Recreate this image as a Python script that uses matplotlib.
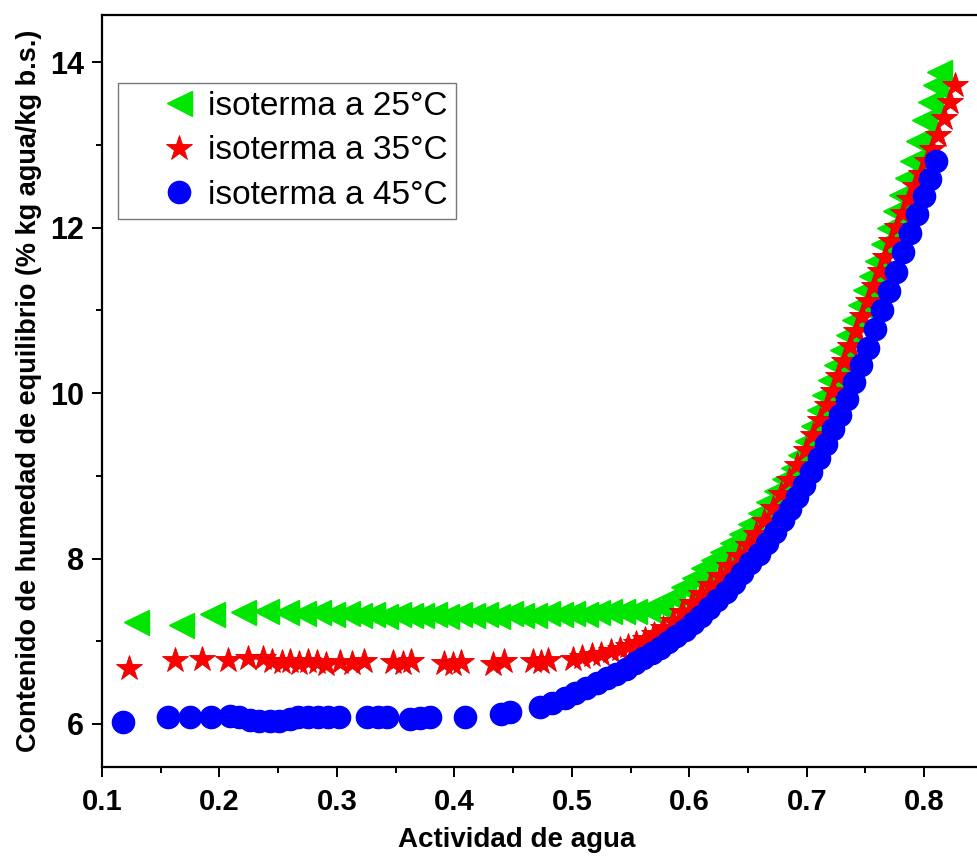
import matplotlib
matplotlib.use("Agg")
import matplotlib.pyplot as plt
from matplotlib.ticker import MultipleLocator

plt.rcParams['font.family'] = ['Liberation Sans', 'DejaVu Sans']

# isoterma a 25 C
aw_25 = [0.129, 0.167, 0.194, 0.220, 0.240, 0.257, 0.271, 0.284, 0.296, 0.309,
         0.319, 0.330, 0.341, 0.352, 0.362, 0.372, 0.383, 0.393, 0.404, 0.415,
         0.426, 0.436, 0.447, 0.457, 0.468, 0.479, 0.490, 0.500, 0.511, 0.521,
         0.532, 0.543, 0.553, 0.564, 0.575, 0.585, 0.595, 0.604, 0.612, 0.620,
         0.628, 0.636, 0.644, 0.652, 0.660, 0.667, 0.674, 0.681, 0.688, 0.694,
         0.700, 0.705, 0.710, 0.715, 0.720, 0.725, 0.730, 0.735, 0.740, 0.745,
         0.750, 0.755, 0.760, 0.765, 0.770, 0.775, 0.780, 0.785, 0.790, 0.795,
         0.800, 0.805, 0.809, 0.813]
hum_25 = [7.23, 7.20, 7.33, 7.35, 7.36, 7.35, 7.34, 7.35, 7.33, 7.34,
          7.32, 7.33, 7.31, 7.33, 7.32, 7.32, 7.33, 7.31, 7.33, 7.32,
          7.33, 7.31, 7.34, 7.32, 7.32, 7.34, 7.33, 7.34, 7.33, 7.35,
          7.36, 7.36, 7.37, 7.39, 7.43, 7.53, 7.65, 7.77, 7.88, 7.98,
          8.08, 8.19, 8.30, 8.42, 8.55, 8.68, 8.82, 8.96, 9.10, 9.25,
          9.42, 9.60, 9.80, 9.98, 10.16, 10.34, 10.52, 10.70, 10.88, 11.06,
          11.24, 11.42, 11.60, 11.80, 12.00, 12.20, 12.40, 12.60, 12.80, 13.05,
          13.30, 13.52, 13.72, 13.88]

# isoterma a 35 C
aw_35 = [0.123, 0.162, 0.185, 0.207, 0.224, 0.237, 0.245, 0.253, 0.260, 0.268,
         0.275, 0.283, 0.291, 0.303, 0.313, 0.323, 0.348, 0.356, 0.363, 0.391,
         0.399, 0.406, 0.433, 0.442, 0.467, 0.474, 0.480, 0.501, 0.509, 0.517,
         0.525, 0.533, 0.541, 0.548, 0.555, 0.562, 0.570, 0.578, 0.586, 0.594,
         0.602, 0.610, 0.618, 0.626, 0.634, 0.642, 0.650, 0.657, 0.664, 0.671,
         0.678, 0.685, 0.692, 0.699, 0.705, 0.711, 0.717, 0.722, 0.727, 0.732,
         0.737, 0.742, 0.747, 0.752, 0.757, 0.762, 0.767, 0.772, 0.777, 0.782,
         0.787, 0.792, 0.797, 0.802, 0.807, 0.812, 0.817, 0.822, 0.826]
hum_35 = [6.68, 6.77, 6.78, 6.77, 6.80, 6.80, 6.76, 6.75, 6.76, 6.74,
          6.76, 6.75, 6.73, 6.75, 6.74, 6.76, 6.75, 6.74, 6.76, 6.74,
          6.73, 6.75, 6.73, 6.76, 6.76, 6.75, 6.77, 6.79, 6.81, 6.83,
          6.85, 6.88, 6.91, 6.94, 6.98, 7.03, 7.09, 7.16, 7.25, 7.35,
          7.46, 7.57, 7.68, 7.79, 7.91, 8.03, 8.16, 8.30, 8.45, 8.61,
          8.78, 8.95, 9.13, 9.31, 9.49, 9.67, 9.85, 10.03, 10.21, 10.39,
          10.57, 10.75, 10.93, 11.11, 11.29, 11.47, 11.65, 11.84, 12.01, 12.18,
          12.35, 12.50, 12.65, 12.80, 12.95, 13.12, 13.32, 13.52, 13.72]

# isoterma a 45 C
aw_45 = [0.118, 0.156, 0.175, 0.193, 0.209, 0.217, 0.226, 0.234, 0.243, 0.251,
         0.260, 0.267, 0.275, 0.284, 0.292, 0.302, 0.326, 0.335, 0.343, 0.362,
         0.371, 0.379, 0.409, 0.440, 0.447, 0.473, 0.483, 0.494, 0.503, 0.512,
         0.521, 0.530, 0.538, 0.546, 0.554, 0.561, 0.568, 0.575, 0.582, 0.589,
         0.596, 0.603, 0.610, 0.617, 0.624, 0.631, 0.638, 0.645, 0.652, 0.659,
         0.666, 0.673, 0.680, 0.686, 0.692, 0.698, 0.704, 0.710, 0.716, 0.722,
         0.728, 0.734, 0.740, 0.746, 0.752, 0.758, 0.764, 0.770, 0.776, 0.782,
         0.788, 0.794, 0.800, 0.805, 0.810]
hum_45 = [6.02, 6.09, 6.09, 6.09, 6.10, 6.08, 6.05, 6.03, 6.03, 6.04,
          6.06, 6.08, 6.09, 6.08, 6.09, 6.08, 6.08, 6.09, 6.08, 6.06,
          6.07, 6.08, 6.09, 6.12, 6.14, 6.20, 6.25, 6.32, 6.37, 6.43,
          6.49, 6.55, 6.61, 6.67, 6.74, 6.80, 6.86, 6.92, 6.99, 7.06,
          7.14, 7.22, 7.31, 7.40, 7.50, 7.60, 7.71, 7.82, 7.94, 8.06,
          8.19, 8.32, 8.46, 8.60, 8.74, 8.89, 9.04, 9.22, 9.39, 9.56,
          9.74, 9.93, 10.13, 10.34, 10.55, 10.77, 11.00, 11.23, 11.46, 11.70,
          11.93, 12.16, 12.38, 12.59, 12.80]

fig = plt.figure(figsize=(9.78, 8.67), dpi=100)
ax = fig.add_axes([102/978, 100/867, 888/978, 752/867])

ax.plot(aw_25, hum_25, ls='none', marker='<', ms=18, color='#00e600', mec='#00e600',
        label='isoterma a 25°C')
ax.plot(aw_35, hum_35, ls='none', marker='*', ms=19, color='#ff0000', mec='#e00000',
        mew=0.6, label='isoterma a 35°C')
ax.plot(aw_45, hum_45, ls='none', marker='o', ms=16, color='#0000ff', mec='#0000ff',
        label='isoterma a 45°C')

ax.set_xlim(0.1, 0.856)
ax.set_ylim(5.48, 14.57)
ax.xaxis.set_major_locator(MultipleLocator(0.1))
ax.xaxis.set_minor_locator(MultipleLocator(0.05))
ax.yaxis.set_major_locator(MultipleLocator(2))
ax.yaxis.set_minor_locator(MultipleLocator(1))

for s in ax.spines.values():
    s.set_linewidth(1.6)
ax.tick_params(which='major', direction='out', length=7, width=1.4, pad=6)
ax.tick_params(which='minor', direction='out', length=4.5, width=1.4)
ax.tick_params(axis='x', which='major', labelsize=21, pad=8)
ax.tick_params(axis='y', which='major', labelsize=22)
for lab in ax.get_xticklabels() + ax.get_yticklabels():
    lab.set_fontweight('bold')

ax.set_xlabel('Actividad de agua', fontsize=20, fontweight='bold', labelpad=6)
ax.xaxis.set_label_coords(0.467, -0.08)
ax.set_ylabel('Contenido de humedad de equilibrio (% kg agua/kg b.s.)',
              fontsize=19.5, fontweight='bold', labelpad=6)

leg = ax.legend(loc='upper left', bbox_to_anchor=(0.018, 0.91), borderaxespad=0,
                fontsize=24, frameon=True, fancybox=False, borderpad=0.25,
                handlelength=3.15, handletextpad=-0.7, labelspacing=0.4)
leg.get_frame().set_edgecolor('#555555')
leg.get_frame().set_linewidth(1.0)

plt.savefig('out.png', dpi=100)
